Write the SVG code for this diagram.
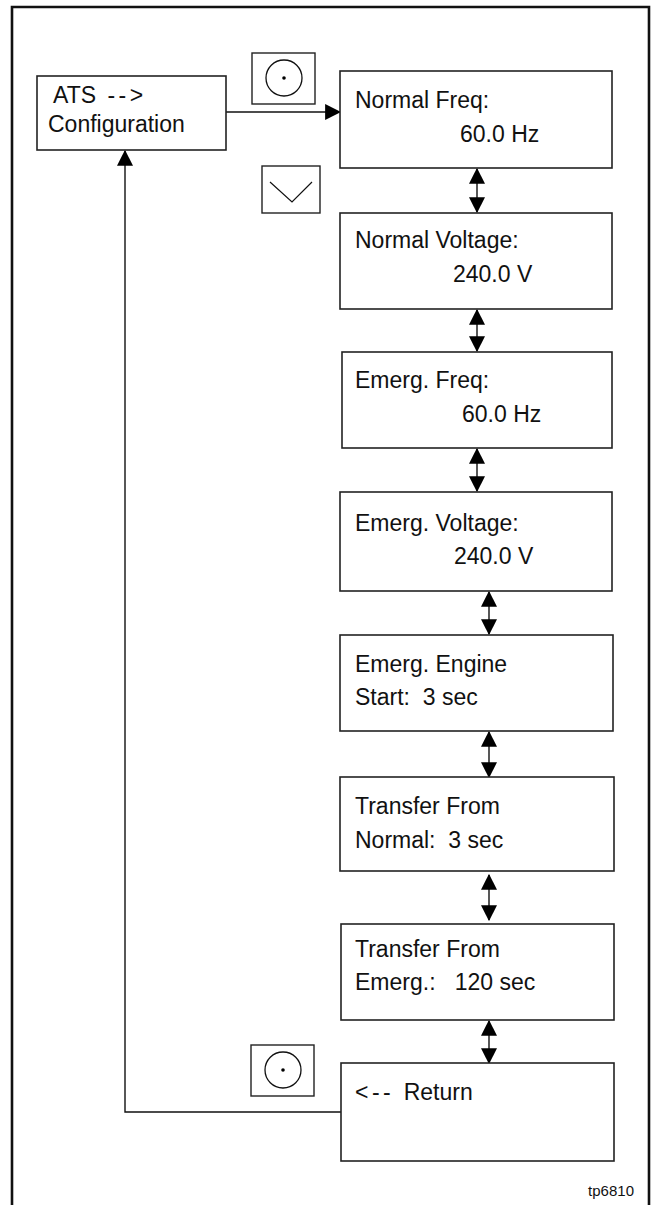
<svg xmlns="http://www.w3.org/2000/svg" width="652" height="1205" viewBox="0 0 652 1205">
<style>
.box{fill:#fff;stroke:#222;stroke-width:1.6}
.btn{fill:#fff;stroke:#222;stroke-width:1.4}
.t{font-family:"Liberation Sans",Arial,sans-serif;font-size:23px;fill:#111}
.c{fill:none;stroke:#111;stroke-width:1.4}
.d{letter-spacing:3.5px}
</style>
<defs>
<marker id="ah" markerUnits="userSpaceOnUse" markerWidth="16" markerHeight="16" viewBox="0 0 14 14" refX="13" refY="7" orient="auto">
<path d="M0,0 L14,7 L0,14 Z" fill="#000"/>
</marker>
<marker id="as" markerUnits="userSpaceOnUse" markerWidth="16" markerHeight="16" viewBox="0 0 14 14" refX="13" refY="7" orient="auto-start-reverse">
<path d="M0,0 L14,7 L0,14 Z" fill="#000"/>
</marker>
</defs>
<rect width="652" height="1205" fill="#fff"/>
<path d="M12,1210 V7 H649 V1210" fill="none" stroke="#111" stroke-width="2.6"/>

<g id="connectors">
<line class="c" x1="226" y1="112" x2="340" y2="112" marker-end="url(#ah)"/>
<line class="c" x1="477" y1="169" x2="477" y2="212" marker-start="url(#as)" marker-end="url(#as)"/>
<line class="c" x1="477" y1="310" x2="477" y2="351" marker-start="url(#as)" marker-end="url(#as)"/>
<line class="c" x1="477" y1="449" x2="477" y2="491" marker-start="url(#as)" marker-end="url(#as)"/>
<line class="c" x1="489" y1="592" x2="489" y2="634" marker-start="url(#as)" marker-end="url(#as)"/>
<line class="c" x1="489" y1="732" x2="489" y2="777" marker-start="url(#as)" marker-end="url(#as)"/>
<line class="c" x1="489" y1="875" x2="489" y2="920" marker-start="url(#as)" marker-end="url(#as)"/>
<line class="c" x1="489" y1="1021" x2="489" y2="1063" marker-start="url(#as)" marker-end="url(#as)"/>
<path class="c" d="M341,1112 H125 V151" marker-end="url(#ah)"/>
</g>

<g id="btn-select-top">
<rect class="btn" x="252" y="53" width="63" height="51"/>
<circle cx="284" cy="78" r="18" fill="none" stroke="#111" stroke-width="1.3"/>
<circle cx="284" cy="78" r="1.8" fill="#000"/>
</g>
<g id="btn-down">
<rect class="btn" x="262" y="166" width="58" height="47"/>
<path d="M270,182 L292,202 L312,182" fill="none" stroke="#111" stroke-width="1.2"/>
</g>
<g id="btn-select-bottom">
<rect class="btn" x="251" y="1045" width="63" height="51"/>
<circle cx="283" cy="1070" r="18" fill="none" stroke="#111" stroke-width="1.3"/>
<circle cx="283" cy="1070" r="1.8" fill="#000"/>
</g>

<g id="ats-config">
<rect class="box" x="37" y="76" width="189" height="74"/>
<text class="t" x="53" y="103">ATS <tspan class="d" dx="5">--&gt;</tspan></text>
<text class="t" x="48" y="132">Configuration</text>
</g>
<g id="normal-freq">
<rect class="box" x="340" y="71" width="272" height="97"/>
<text class="t" x="355" y="108">Normal Freq:</text>
<text class="t" x="460" y="142">60.0 Hz</text>
</g>
<g id="normal-voltage">
<rect class="box" x="340" y="213" width="272" height="96"/>
<text class="t" x="355" y="248">Normal Voltage:</text>
<text class="t" x="453" y="282">240.0 V</text>
</g>
<g id="emerg-freq">
<rect class="box" x="342" y="352" width="270" height="96"/>
<text class="t" x="355" y="388">Emerg. Freq:</text>
<text class="t" x="462" y="422">60.0 Hz</text>
</g>
<g id="emerg-voltage">
<rect class="box" x="340" y="492" width="272" height="99"/>
<text class="t" x="355" y="531">Emerg. Voltage:</text>
<text class="t" x="454" y="564">240.0 V</text>
</g>
<g id="emerg-engine-start">
<rect class="box" x="340" y="635" width="273" height="96"/>
<text class="t" x="355" y="672">Emerg. Engine</text>
<text class="t" x="355" y="705" xml:space="preserve">Start:  3 sec</text>
</g>
<g id="transfer-from-normal">
<rect class="box" x="340" y="777" width="274" height="94"/>
<text class="t" x="355" y="814">Transfer From</text>
<text class="t" x="355" y="848" xml:space="preserve">Normal:  3 sec</text>
</g>
<g id="transfer-from-emerg">
<rect class="box" x="341" y="924" width="273" height="96"/>
<text class="t" x="355" y="957">Transfer From</text>
<text class="t" x="355" y="990" xml:space="preserve">Emerg.:   120 sec</text>
</g>
<g id="return">
<rect class="box" x="341" y="1063" width="273" height="98"/>
<text class="t" x="355" y="1100"><tspan class="d">&lt;--</tspan> <tspan dx="3">Return</tspan></text>
</g>
<text x="634" y="1196" text-anchor="end" font-family="'Liberation Sans',Arial,sans-serif" font-size="15" fill="#111">tp6810</text>
</svg>
